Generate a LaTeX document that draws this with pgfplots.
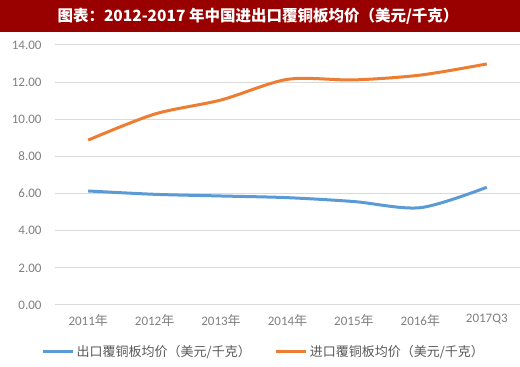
\documentclass[border=0pt]{standalone}
\usepackage{fontspec}
\setmainfont{Carlito}
\newfontfamily\cjk{Noto Sans CJK SC}
\usepackage{pgfplots}
\pgfplotsset{compat=1.18}
\definecolor{xblue}{HTML}{5B9BD5}
\definecolor{xorange}{HTML}{ED7D31}
\definecolor{tred}{HTML}{990000}
\definecolor{gridc}{HTML}{D9D9D9}
\definecolor{tickc}{HTML}{808080}
\definecolor{legc}{HTML}{595959}
\begin{document}
\begin{tikzpicture}[x=1pt,y=1pt]
\useasboundingbox (0,0) rectangle (520,367);
\fill[white] (0,0) rectangle (520,367);
\fill[tred] (0,335) rectangle (520,367);
\node[text=white, font=\cjk\bfseries\fontsize{15.5}{18}\selectfont] at (258,351) {图表：2012-2017 年中国进出口覆铜板均价（美元/千克）};
\begin{axis}[at={(55pt,62pt)}, anchor=south west, scale only axis,
  width=465pt, height=260pt,
  xmin=-0.5, xmax=6.5, ymin=0, ymax=14,
  ytick={0,2,...,14}, xtick={0,...,6},
  xticklabels={2011{\cjk 年},2012{\cjk 年},2013{\cjk 年},2014{\cjk 年},2015{\cjk 年},2016{\cjk 年},2017Q3},
  axis line style={draw=none}, tick style={draw=none}, major tick length=0pt,
  ymajorgrids, grid style={gridc, line width=1pt},
  /pgf/number format/assume math mode=true,
  yticklabel style={/pgf/number format/fixed, /pgf/number format/fixed zerofill, /pgf/number format/precision=2},
  ticklabel style={font=\fontsize{13}{15}\selectfont, text=tickc},
  yticklabel shift=10pt, xticklabel shift=6pt,
  legend style={at={(0.449,-0.18)}, anchor=center, legend columns=2, draw=none, fill=none,
    font=\cjk\fontsize{13}{15}\selectfont, text=legc,
    /tikz/every even column/.append style={column sep=22pt}},
  legend image code/.code={\draw[#1] (0pt,0pt) -- (30pt,0pt);},
]
\addplot[xblue, line width=3pt, smooth] coordinates {
(0,6.14) (1,5.96) (2,5.87) (3,5.78) (4,5.57) (5,5.24) (6,6.34)};
\addlegendentry{出口覆铜板均价（美元/千克）}
\addplot[xorange, line width=3pt, smooth] coordinates {
(0,8.88) (1,10.28) (2,11.04) (3,12.15) (4,12.12) (5,12.38) (6,12.98)};
\addlegendentry{进口覆铜板均价（美元/千克）}
\end{axis}
\end{tikzpicture}
\end{document}
